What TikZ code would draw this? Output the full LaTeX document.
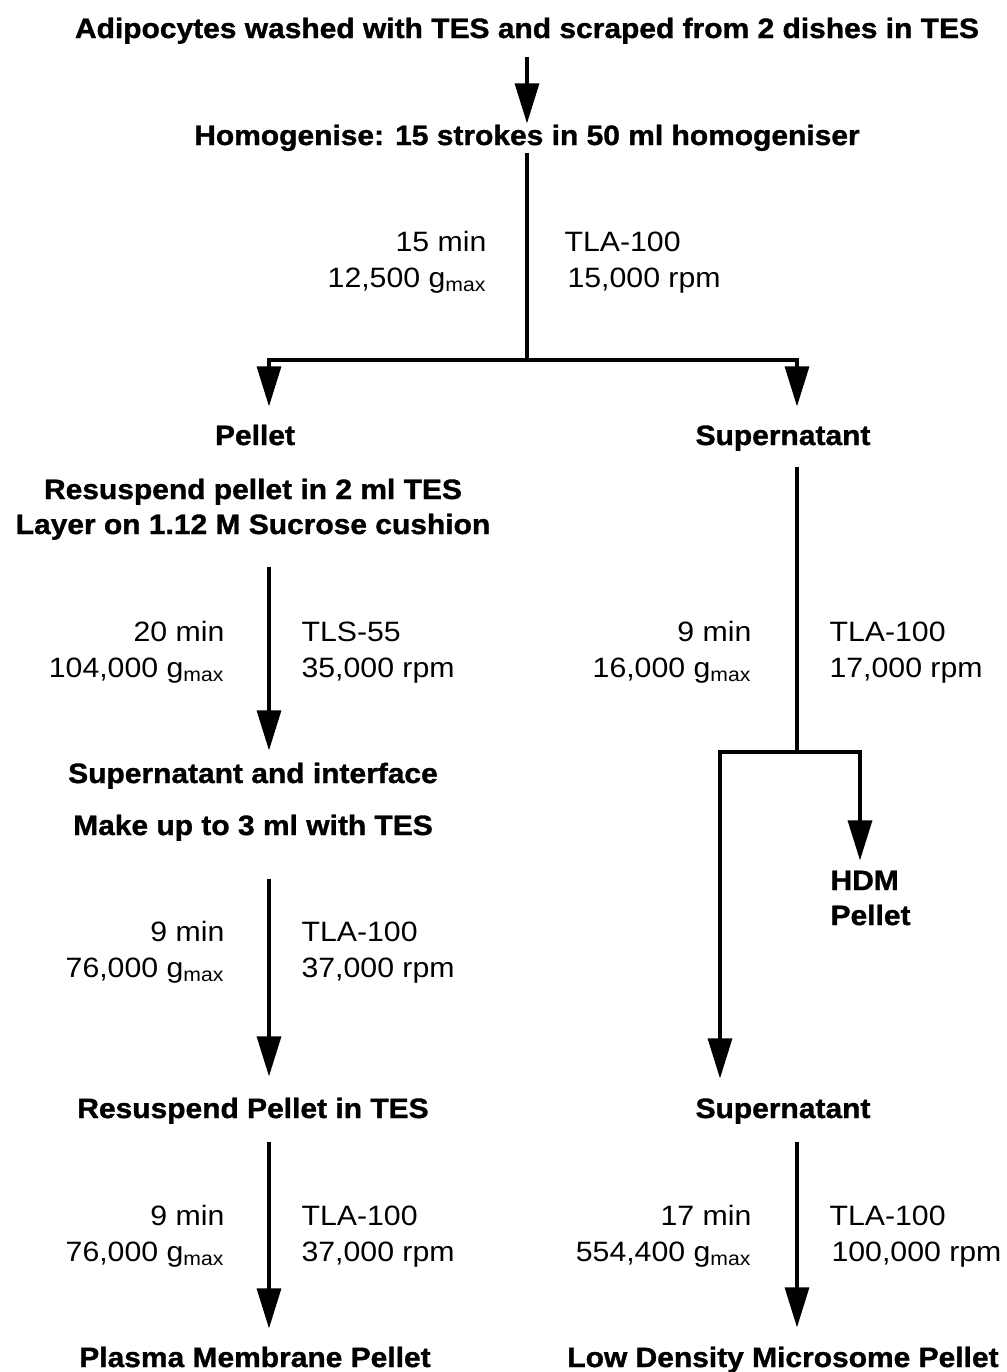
\documentclass[tikz,border=0pt]{standalone}
\usepackage{fontspec}
\setmainfont{Liberation Sans}[FakeStretch=1.08, BoldFeatures={FakeStretch=1.07, FakeBold=1.2}]
\usetikzlibrary{arrows.meta}

\begin{document}
\begin{tikzpicture}[x=0.5pt, y=-0.5pt, >={Triangle[length=20pt, width=12pt]}, line width=1.6pt,
  stage/.style={font=\fontsize{14}{16}\selectfont\bfseries, inner sep=0pt, text height=10pt, text depth=3pt, anchor=base},
  cond/.style={font=\fontsize{14}{16}\selectfont, inner sep=0pt, anchor=base east},
  rotor/.style={font=\fontsize{14}{16}\selectfont, inner sep=0pt, anchor=base west}]
  \useasboundingbox (0,0) rectangle (1007,1372);

  % columns and branch points
  \coordinate (colL) at (269,0);
  \coordinate (colR) at (797,0);
  \coordinate (colS) at (720,0);
  \coordinate (colH) at (860,0);
  \coordinate (split1) at (527,360);
  \coordinate (split2) at (797,752);

  % stages
  \node[stage] (wash) at (527,38) {Adipocytes washed with TES and scraped from 2 dishes in TES};
  \node[stage] (homog) at (527,145) {Homogenise: 15 strokes in 50 ml homogeniser};
  \node[stage] (pellet) at (255,445) {Pellet};
  \node[stage] (super1) at (783,445) {Supernatant};
  \node[stage] (resusp1) at (253,499) {Resuspend pellet in 2 ml TES};
  \node[stage] (layer) at (253,534) {Layer on 1.12 M Sucrose cushion};
  \node[stage] (iface) at (253,783) {Supernatant and interface};
  \node[stage] (makeup) at (253,835) {Make up to 3 ml with TES};
  \node[stage] (resusp2) at (253,1118) {Resuspend Pellet in TES};
  \node[stage] (pm) at (255,1367) {Plasma Membrane Pellet};
  \node[stage, anchor=base west] (hdm) at (829,890) {HDM};
  \node[stage, anchor=base west] (hdmp) at (829,925) {Pellet};
  \node[stage] (super2) at (783,1118) {Supernatant};
  \node[stage] (ldm) at (783,1367) {Low Density Microsome Pellet};

  % spin conditions
  \node[cond] (t1) at (488,251) {15 min};
  \node[cond] (g1) at (488,287) {12,500 g\textsubscript{max}};
  \node[rotor] (r1) at (563,251) {TLA-100};
  \node[rotor] (s1) at (566,287) {15,000 rpm};
  \node[cond] (t2) at (226,641) {20 min};
  \node[cond] (g2) at (226,677) {104,000 g\textsubscript{max}};
  \node[rotor] (r2) at (300,641) {TLS-55};
  \node[rotor] (s2) at (300,677) {35,000 rpm};
  \node[cond] (t3) at (226,941) {9 min};
  \node[cond] (g3) at (226,977) {76,000 g\textsubscript{max}};
  \node[rotor] (r3) at (300,941) {TLA-100};
  \node[rotor] (s3) at (300,977) {37,000 rpm};
  \node[cond] (t4) at (226,1225) {9 min};
  \node[cond] (g4) at (226,1261) {76,000 g\textsubscript{max}};
  \node[rotor] (r4) at (300,1225) {TLA-100};
  \node[rotor] (s4) at (300,1261) {37,000 rpm};
  \node[cond] (t5) at (753,641) {9 min};
  \node[cond] (g5) at (753,677) {16,000 g\textsubscript{max}};
  \node[rotor] (r5) at (828,641) {TLA-100};
  \node[rotor] (s5) at (828,677) {17,000 rpm};
  \node[cond] (t6) at (753,1225) {17 min};
  \node[cond] (g6) at (753,1261) {554,400 g\textsubscript{max}};
  \node[rotor] (r6) at (828,1225) {TLA-100};
  \node[rotor] (s6) at (830,1261) {100,000 rpm};

  % connectors
  \draw[->, shorten <=5.5pt] (wash.south) -- (homog.north);
  \draw (homog.south) -- (split1);
  \draw[->, shorten >=8.5pt] (split1) -| (pellet.north -| colL);
  \draw[->, shorten >=8.5pt] (split1) -| (super1.north -| colR);
  \draw[->, shorten <=12.5pt, shorten >=5.5pt] (layer.south -| colL) -- (iface.north -| colL);
  \draw[->, shorten <=18pt, shorten >=10pt] (makeup.south -| colL) -- (resusp2.north -| colL);
  \draw[->, shorten <=8pt, shorten >=8.5pt] (resusp2.south -| colL) -- (pm.north -| colL);
  \draw[shorten <=7pt] (super1.south -| colR) -- (split2);
  \draw[->, shorten >=4pt] (split2) -| (hdm.north -| colH);
  \draw[->, shorten >=9pt] (split2) -| (super2.north -| colS);
  \draw[->, shorten <=8pt, shorten >=9pt] (super2.south -| colR) -- (ldm.north -| colR);
\end{tikzpicture}
\end{document}
